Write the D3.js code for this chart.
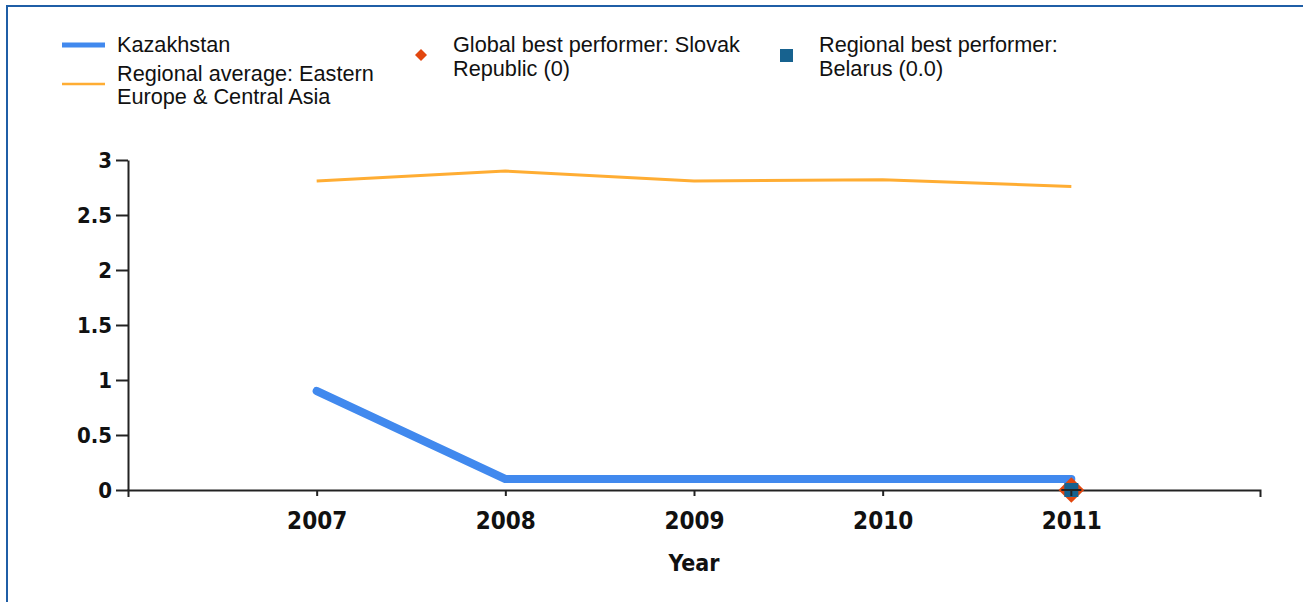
<!DOCTYPE html>
<html>
<head>
<meta charset="utf-8">
<script src="https://cdn.jsdelivr.net/npm/d3@7"></script>
<style>
  body { margin: 0; background: #fff; }
  .legend text { font-family: "Liberation Sans", Arial, sans-serif; font-size: 21.7px; fill: #111; }
  .axis text { font-family: "DejaVu Sans Condensed", "DejaVu Sans", sans-serif; font-weight: bold; fill: #111; }
  .axis path, .axis line { stroke: #222; stroke-width: 2px; }
</style>
</head>
<body>
<div id="chart"></div>
<script>
var years = [2007, 2008, 2009, 2010, 2011]
var kazakhstan = [0.9, 0.1, 0.1, 0.1, 0.1]
var regionalAvg = [2.81, 2.9, 2.81, 2.82, 2.76]
var yTicks = [0, 0.5, 1, 1.5, 2, 2.5, 3]
var globalBest = { year: 2011, value: 0 }
var regionalBest = { year: 2011, value: 0 }

var fullWidth = 1303, fullHeight = 602
var margin = { top: 160, left: 128, right: 43, bottom: 112 }
var width = fullWidth - margin.left - margin.right
var height = fullHeight - margin.top - margin.bottom

var svg = d3.select("#chart").append("svg")
    .attr("width", fullWidth)
    .attr("height", fullHeight)

// frame (only top and left edges are visible)
svg.append("path")
    .attr("d", "M7," + fullHeight + "V6H" + fullWidth)
    .attr("fill", "none")
    .attr("stroke", "#1f5ea6")
    .attr("stroke-width", 2)

var xScale = d3.scaleLinear().domain([2006, 2012]).range([0, width])
var yScale = d3.scaleLinear().domain([0, 3]).range([height, 0])

var g = svg.append("g")
    .attr("transform", "translate(" + margin.left + "," + margin.top + ")")

var xAxis = d3.axisBottom(xScale)
    .tickValues(years)
    .tickFormat(d3.format("d"))
    .tickSizeInner(6)
    .tickSizeOuter(7)
    .tickPadding(16)

var yAxis = d3.axisLeft(yScale)
    .tickValues(yTicks)
    .tickFormat(d3.format("~g"))
    .tickSizeInner(12)
    .tickSizeOuter(0)
    .tickPadding(4)

g.append("g")
    .attr("class", "axis")
    .attr("transform", "translate(0," + height + ")")
    .call(xAxis)
    .selectAll("text")
    .style("font-size", "24px")

g.append("g")
    .attr("class", "axis")
    .call(yAxis)
    .selectAll("text")
    .style("font-size", "22px")

g.append("text")
    .attr("x", xScale(2009))
    .attr("y", height + 81)
    .attr("text-anchor", "middle")
    .style("font-family", "'DejaVu Sans Condensed', 'DejaVu Sans', sans-serif")
    .style("font-weight", "bold")
    .style("font-size", "23px")
    .attr("fill", "#111")
    .text("Year")

var line = d3.line()
    .x(function (d, i) { return xScale(years[i]) })
    .y(function (d) { return yScale(d) })

g.append("path")
    .datum(regionalAvg)
    .attr("fill", "none")
    .attr("stroke", "#ffad33")
    .attr("stroke-width", 3)
    .attr("d", line)

g.append("path")
    .datum(kazakhstan)
    .attr("fill", "none")
    .attr("stroke", "#4189ee")
    .attr("stroke-width", 8)
    .attr("stroke-linecap", "round")
    .attr("stroke-linejoin", "round")
    .attr("d", line)

// diamond = square rotated 45deg
g.append("path")
    .attr("d", d3.symbol(d3.symbolSquare, 330)())
    .attr("transform", "translate(" + xScale(globalBest.year) + "," + yScale(globalBest.value) + ") rotate(45)")
    .attr("fill", "#e2470f")

g.append("path")
    .attr("d", d3.symbol(d3.symbolSquare, 196)())
    .attr("transform", "translate(" + xScale(regionalBest.year) + "," + yScale(regionalBest.value) + ")")
    .attr("fill", "#17628f")

// axis line and tick drawn again on top of the markers
g.append("line")
    .attr("x1", xScale(2011)).attr("x2", xScale(2011))
    .attr("y1", height).attr("y2", height + 6)
    .attr("stroke", "#222").attr("stroke-width", 2)
g.append("line")
    .attr("x1", xScale(2011) - 10).attr("x2", xScale(2011) + 10)
    .attr("y1", height).attr("y2", height)
    .attr("stroke", "#222").attr("stroke-width", 2)

// legend
var legend = svg.append("g").attr("class", "legend")

legend.append("line")
    .attr("x1", 62).attr("x2", 105).attr("y1", 45).attr("y2", 45)
    .attr("stroke", "#4189ee").attr("stroke-width", 5)
legend.append("text").attr("x", 117).attr("y", 52).text("Kazakhstan")

legend.append("line")
    .attr("x1", 62).attr("x2", 105).attr("y1", 84).attr("y2", 84)
    .attr("stroke", "#ffad33").attr("stroke-width", 2.5)
legend.append("text").attr("x", 117).attr("y", 81).text("Regional average: Eastern")
legend.append("text").attr("x", 117).attr("y", 104).text("Europe & Central Asia")

legend.append("path")
    .attr("d", d3.symbol(d3.symbolSquare, 72)())
    .attr("transform", "translate(421,55) rotate(45)")
    .attr("fill", "#e2470f")
legend.append("text").attr("x", 453).attr("y", 52).text("Global best performer: Slovak")
legend.append("text").attr("x", 453).attr("y", 76).text("Republic (0)")

legend.append("rect")
    .attr("x", 780).attr("y", 49).attr("width", 13).attr("height", 13)
    .attr("fill", "#17628f")
legend.append("text").attr("x", 819).attr("y", 52).text("Regional best performer:")
legend.append("text").attr("x", 819).attr("y", 76).text("Belarus (0.0)")
</script>
</body>
</html>
